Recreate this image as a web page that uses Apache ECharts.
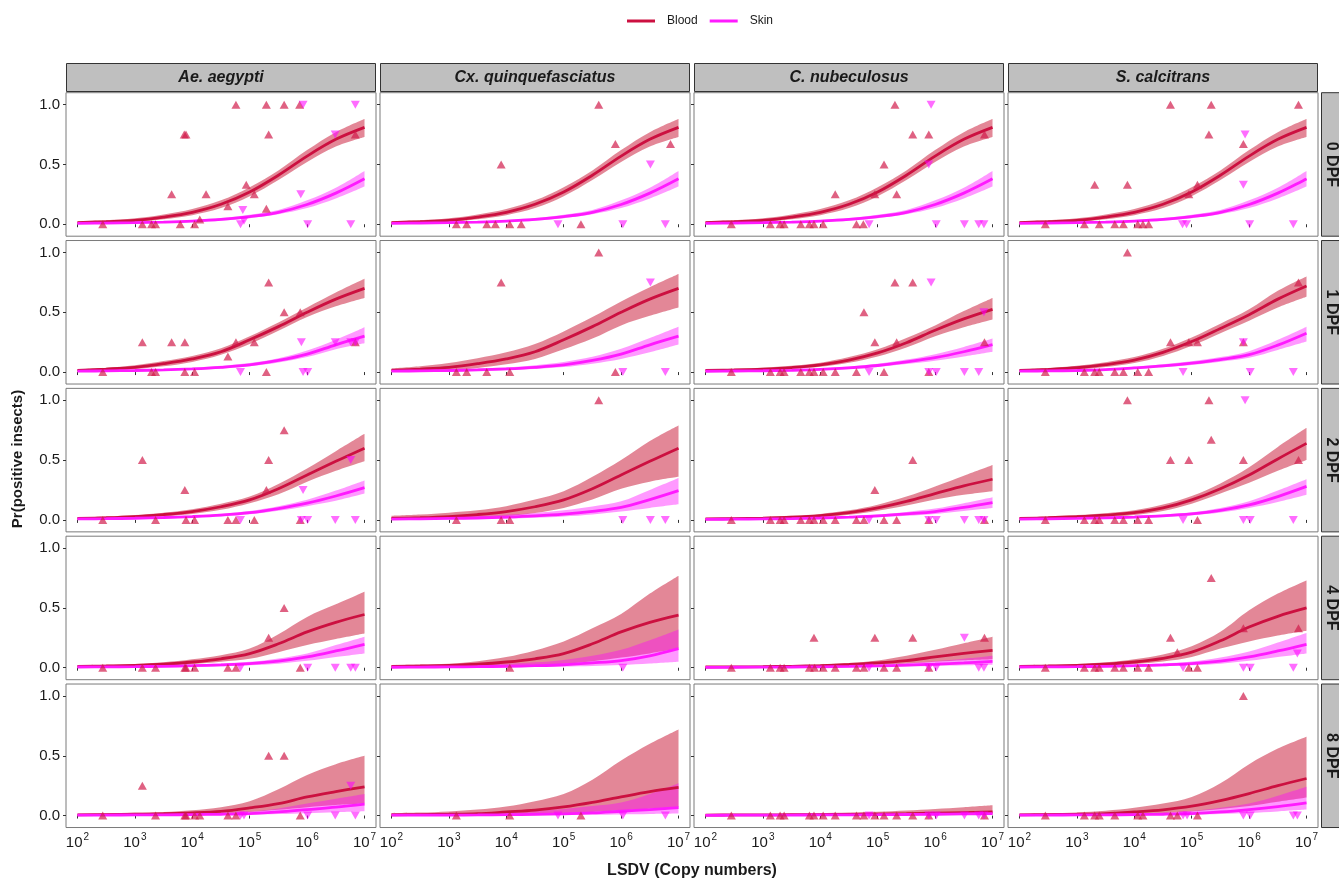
<!DOCTYPE html>
<html>
<head>
<meta charset="utf-8">
<script src="https://cdn.jsdelivr.net/npm/echarts@6/dist/echarts.min.js"></script>
<style>
html, body { margin: 0; padding: 0; background: #ffffff; }
#chart { width: 1339px; height: 878px; }
</style>
</head>
<body>
<div id="chart"></div>
<script>
// Facet labels
const species = ['Ae. aegypti', 'Cx. quinquefasciatus', 'C. nubeculosus', 'S. calcitrans'];
const dpf = ['0 DPF', '1 DPF', '2 DPF', '4 DPF', '8 DPF'];

// Axis ticks (x is log10 of LSDV copy number)
const xTicks = [2, 3, 4, 5, 6, 7];
const yTicks = [0, 0.5, 1];

// Positions (log10 copies) where the fitted curves are sampled
const curveX = [2, 2.5, 3, 3.5, 4, 4.5, 5, 5.5, 6, 6.5, 7];

// Fitted probability and 95% band, indexed [DPF][species][curveX]
const bloodFit0 = [0.014, 0.022, 0.033, 0.06, 0.10, 0.167, 0.27, 0.41, 0.57, 0.71, 0.81];
const bloodLo0  = [0.008, 0.013, 0.021, 0.042, 0.076, 0.135, 0.235, 0.37, 0.52, 0.65, 0.73];
const bloodHi0  = [0.022, 0.033, 0.05, 0.082, 0.128, 0.2, 0.31, 0.45, 0.62, 0.77, 0.88];
const skinFit0  = [0.008, 0.01, 0.013, 0.018, 0.026, 0.04, 0.064, 0.10, 0.165, 0.26, 0.38];
const skinLo0   = [0.004, 0.006, 0.008, 0.012, 0.018, 0.03, 0.05, 0.083, 0.135, 0.215, 0.315];
const skinHi0   = [0.013, 0.016, 0.02, 0.026, 0.036, 0.052, 0.08, 0.12, 0.2, 0.305, 0.445];

const bloodFit = [
  [bloodFit0, bloodFit0, bloodFit0, bloodFit0],
  [[0.014, 0.025, 0.04, 0.07, 0.11, 0.17, 0.27, 0.38, 0.50, 0.61, 0.70],
   [0.014, 0.025, 0.04, 0.07, 0.11, 0.17, 0.27, 0.38, 0.50, 0.61, 0.70],
   [0.014, 0.018, 0.025, 0.038, 0.06, 0.10, 0.16, 0.245, 0.35, 0.445, 0.525],
   [0.014, 0.023, 0.036, 0.062, 0.10, 0.165, 0.255, 0.365, 0.48, 0.61, 0.72]],
  [[0.012, 0.018, 0.028, 0.045, 0.07, 0.11, 0.167, 0.26, 0.375, 0.49, 0.60],
   [0.012, 0.018, 0.028, 0.045, 0.07, 0.11, 0.167, 0.26, 0.375, 0.49, 0.60],
   [0.008, 0.011, 0.015, 0.022, 0.035, 0.06, 0.10, 0.155, 0.22, 0.285, 0.34],
   [0.012, 0.018, 0.027, 0.04, 0.06, 0.10, 0.167, 0.26, 0.375, 0.51, 0.64]],
  [[0.011, 0.015, 0.02, 0.03, 0.048, 0.075, 0.118, 0.2, 0.30, 0.38, 0.445],
   [0.011, 0.015, 0.02, 0.03, 0.048, 0.075, 0.118, 0.2, 0.30, 0.38, 0.44],
   [0.006, 0.007, 0.009, 0.012, 0.018, 0.027, 0.04, 0.06, 0.09, 0.12, 0.146],
   [0.011, 0.015, 0.02, 0.03, 0.048, 0.078, 0.13, 0.225, 0.34, 0.43, 0.50]],
  [[0.006, 0.008, 0.011, 0.015, 0.022, 0.035, 0.064, 0.10, 0.156, 0.2, 0.24],
   [0.006, 0.008, 0.011, 0.016, 0.03, 0.045, 0.072, 0.11, 0.156, 0.2, 0.235],
   [0.004, 0.005, 0.006, 0.007, 0.008, 0.01, 0.012, 0.015, 0.02, 0.025, 0.03],
   [0.006, 0.008, 0.011, 0.016, 0.03, 0.048, 0.078, 0.125, 0.184, 0.25, 0.31]]
];
const bloodLo = [
  [bloodLo0, bloodLo0, bloodLo0, bloodLo0],
  [[0.008, 0.015, 0.025, 0.048, 0.085, 0.145, 0.235, 0.345, 0.46, 0.55, 0.62],
   [0.006, 0.011, 0.018, 0.035, 0.065, 0.11, 0.19, 0.28, 0.39, 0.47, 0.54],
   [0.008, 0.011, 0.016, 0.026, 0.044, 0.077, 0.13, 0.205, 0.30, 0.375, 0.44],
   [0.008, 0.014, 0.023, 0.043, 0.076, 0.135, 0.22, 0.325, 0.43, 0.54, 0.63]],
  [[0.006, 0.01, 0.017, 0.03, 0.05, 0.085, 0.14, 0.215, 0.32, 0.41, 0.49],
   [0.003, 0.006, 0.01, 0.018, 0.032, 0.058, 0.10, 0.17, 0.26, 0.32, 0.36],
   [0.004, 0.006, 0.009, 0.014, 0.023, 0.043, 0.077, 0.12, 0.17, 0.21, 0.24],
   [0.006, 0.01, 0.016, 0.026, 0.042, 0.075, 0.135, 0.22, 0.31, 0.41, 0.50]],
  [[0.005, 0.008, 0.011, 0.018, 0.03, 0.05, 0.075, 0.13, 0.19, 0.24, 0.286],
   [0.002, 0.003, 0.005, 0.008, 0.012, 0.02, 0.033, 0.055, 0.085, 0.12, 0.16],
   [0.003, 0.003, 0.004, 0.006, 0.01, 0.015, 0.024, 0.035, 0.05, 0.062, 0.07],
   [0.005, 0.008, 0.011, 0.018, 0.03, 0.052, 0.09, 0.16, 0.22, 0.27, 0.31]],
  [[0.002, 0.003, 0.004, 0.006, 0.01, 0.016, 0.03, 0.048, 0.07, 0.088, 0.10],
   [0.001, 0.002, 0.003, 0.005, 0.008, 0.013, 0.02, 0.03, 0.045, 0.058, 0.07],
   [0.001, 0.001, 0.002, 0.002, 0.002, 0.003, 0.004, 0.005, 0.006, 0.007, 0.008],
   [0.002, 0.003, 0.004, 0.007, 0.012, 0.02, 0.034, 0.055, 0.08, 0.115, 0.15]]
];
const bloodHi = [
  [bloodHi0, bloodHi0, bloodHi0, bloodHi0],
  [[0.023, 0.037, 0.058, 0.092, 0.135, 0.2, 0.30, 0.415, 0.54, 0.665, 0.78],
   [0.03, 0.048, 0.075, 0.115, 0.165, 0.235, 0.34, 0.46, 0.59, 0.71, 0.82],
   [0.022, 0.028, 0.036, 0.052, 0.078, 0.125, 0.19, 0.285, 0.39, 0.51, 0.62],
   [0.022, 0.034, 0.052, 0.082, 0.125, 0.195, 0.29, 0.405, 0.525, 0.68, 0.80]],
  [[0.02, 0.028, 0.04, 0.06, 0.09, 0.135, 0.195, 0.30, 0.43, 0.575, 0.72],
   [0.035, 0.045, 0.06, 0.08, 0.115, 0.17, 0.24, 0.36, 0.50, 0.66, 0.79],
   [0.015, 0.019, 0.025, 0.034, 0.05, 0.08, 0.127, 0.195, 0.28, 0.37, 0.46],
   [0.02, 0.028, 0.04, 0.056, 0.08, 0.128, 0.2, 0.305, 0.44, 0.61, 0.77]],
  [[0.02, 0.025, 0.032, 0.045, 0.07, 0.105, 0.16, 0.28, 0.425, 0.53, 0.636],
   [0.02, 0.026, 0.034, 0.055, 0.09, 0.145, 0.22, 0.33, 0.45, 0.62, 0.77],
   [0.012, 0.014, 0.017, 0.021, 0.028, 0.04, 0.06, 0.1, 0.15, 0.205, 0.26],
   [0.02, 0.025, 0.032, 0.045, 0.07, 0.11, 0.18, 0.3, 0.48, 0.62, 0.73]],
  [[0.015, 0.018, 0.023, 0.03, 0.045, 0.07, 0.12, 0.22, 0.34, 0.43, 0.50],
   [0.02, 0.025, 0.035, 0.05, 0.075, 0.12, 0.18, 0.3, 0.46, 0.6, 0.72],
   [0.01, 0.012, 0.014, 0.016, 0.02, 0.025, 0.032, 0.042, 0.055, 0.07, 0.086],
   [0.015, 0.02, 0.026, 0.04, 0.065, 0.1, 0.156, 0.27, 0.43, 0.56, 0.66]]
];
const skinFit = [
  [skinFit0, skinFit0, skinFit0, skinFit0],
  [[0.008, 0.01, 0.013, 0.018, 0.027, 0.04, 0.06, 0.097, 0.15, 0.228, 0.30],
   [0.008, 0.01, 0.013, 0.018, 0.027, 0.04, 0.06, 0.097, 0.15, 0.228, 0.30],
   [0.007, 0.009, 0.011, 0.015, 0.022, 0.035, 0.055, 0.085, 0.12, 0.17, 0.23],
   [0.008, 0.01, 0.013, 0.02, 0.035, 0.052, 0.075, 0.105, 0.145, 0.225, 0.325]],
  [[0.008, 0.01, 0.014, 0.02, 0.028, 0.04, 0.06, 0.095, 0.14, 0.2, 0.27],
   [0.007, 0.009, 0.012, 0.016, 0.023, 0.033, 0.048, 0.072, 0.105, 0.17, 0.245],
   [0.005, 0.006, 0.008, 0.011, 0.016, 0.023, 0.033, 0.05, 0.07, 0.105, 0.145],
   [0.007, 0.009, 0.012, 0.017, 0.024, 0.034, 0.05, 0.08, 0.125, 0.195, 0.28]],
  [[0.006, 0.007, 0.009, 0.012, 0.017, 0.024, 0.034, 0.055, 0.09, 0.14, 0.196],
   [0.004, 0.005, 0.007, 0.009, 0.012, 0.017, 0.025, 0.04, 0.06, 0.1, 0.16],
   [0.003, 0.004, 0.005, 0.006, 0.008, 0.011, 0.015, 0.022, 0.03, 0.04, 0.053],
   [0.006, 0.007, 0.009, 0.012, 0.017, 0.024, 0.034, 0.055, 0.09, 0.14, 0.196]],
  [[0.003, 0.004, 0.005, 0.006, 0.008, 0.011, 0.017, 0.03, 0.05, 0.07, 0.095],
   [0.003, 0.003, 0.004, 0.005, 0.007, 0.01, 0.014, 0.022, 0.036, 0.05, 0.067],
   [0.002, 0.003, 0.003, 0.004, 0.005, 0.006, 0.007, 0.009, 0.011, 0.014, 0.017],
   [0.003, 0.004, 0.005, 0.006, 0.008, 0.011, 0.017, 0.03, 0.05, 0.075, 0.106]]
];
const skinLo = [
  [skinLo0, skinLo0, skinLo0, skinLo0],
  [[0.004, 0.006, 0.008, 0.012, 0.019, 0.03, 0.048, 0.08, 0.125, 0.19, 0.24],
   [0.003, 0.005, 0.007, 0.01, 0.016, 0.026, 0.042, 0.07, 0.11, 0.165, 0.23],
   [0.004, 0.005, 0.007, 0.01, 0.015, 0.025, 0.042, 0.067, 0.095, 0.13, 0.17],
   [0.004, 0.006, 0.008, 0.013, 0.025, 0.04, 0.06, 0.087, 0.12, 0.185, 0.255]],
  [[0.004, 0.006, 0.008, 0.013, 0.02, 0.03, 0.047, 0.077, 0.115, 0.16, 0.22],
   [0.002, 0.003, 0.005, 0.007, 0.011, 0.018, 0.028, 0.045, 0.07, 0.1, 0.13],
   [0.002, 0.003, 0.004, 0.006, 0.01, 0.015, 0.023, 0.035, 0.05, 0.075, 0.10],
   [0.003, 0.005, 0.007, 0.01, 0.016, 0.024, 0.038, 0.062, 0.1, 0.15, 0.21]],
  [[0.002, 0.003, 0.004, 0.006, 0.009, 0.013, 0.02, 0.034, 0.058, 0.09, 0.12],
   [0.001, 0.002, 0.002, 0.003, 0.005, 0.007, 0.01, 0.015, 0.022, 0.035, 0.05],
   [0.001, 0.001, 0.002, 0.002, 0.003, 0.005, 0.007, 0.01, 0.014, 0.02, 0.025],
   [0.002, 0.003, 0.004, 0.006, 0.009, 0.013, 0.02, 0.034, 0.058, 0.09, 0.12]],
  [[0.001, 0.001, 0.002, 0.002, 0.003, 0.005, 0.008, 0.013, 0.02, 0.028, 0.036],
   [0.001, 0.001, 0.001, 0.001, 0.002, 0.003, 0.004, 0.006, 0.009, 0.013, 0.017],
   [0.001, 0.001, 0.001, 0.001, 0.001, 0.002, 0.002, 0.003, 0.003, 0.004, 0.005],
   [0.001, 0.001, 0.002, 0.002, 0.003, 0.005, 0.008, 0.013, 0.022, 0.035, 0.05]]
];
const skinHi = [
  [skinHi0, skinHi0, skinHi0, skinHi0],
  [[0.013, 0.016, 0.02, 0.026, 0.036, 0.052, 0.075, 0.115, 0.18, 0.27, 0.375],
   [0.015, 0.018, 0.022, 0.03, 0.04, 0.058, 0.085, 0.128, 0.195, 0.285, 0.38],
   [0.012, 0.014, 0.017, 0.022, 0.03, 0.046, 0.07, 0.105, 0.15, 0.21, 0.28],
   [0.013, 0.016, 0.02, 0.028, 0.045, 0.065, 0.09, 0.125, 0.175, 0.27, 0.38]],
  [[0.013, 0.016, 0.02, 0.027, 0.037, 0.052, 0.075, 0.115, 0.168, 0.245, 0.33],
   [0.02, 0.024, 0.028, 0.034, 0.044, 0.058, 0.08, 0.112, 0.155, 0.25, 0.35],
   [0.01, 0.011, 0.014, 0.018, 0.024, 0.033, 0.045, 0.067, 0.095, 0.14, 0.19],
   [0.012, 0.014, 0.018, 0.024, 0.033, 0.045, 0.064, 0.1, 0.155, 0.245, 0.34]],
  [[0.012, 0.014, 0.017, 0.021, 0.027, 0.036, 0.05, 0.078, 0.12, 0.19, 0.26],
   [0.015, 0.017, 0.02, 0.025, 0.033, 0.045, 0.065, 0.1, 0.15, 0.23, 0.32],
   [0.008, 0.009, 0.01, 0.012, 0.015, 0.02, 0.028, 0.04, 0.055, 0.075, 0.10],
   [0.012, 0.014, 0.017, 0.021, 0.027, 0.036, 0.052, 0.085, 0.135, 0.21, 0.29]],
  [[0.009, 0.01, 0.012, 0.014, 0.018, 0.024, 0.035, 0.06, 0.1, 0.14, 0.18],
   [0.012, 0.014, 0.016, 0.02, 0.027, 0.038, 0.055, 0.08, 0.11, 0.18, 0.27],
   [0.007, 0.008, 0.009, 0.01, 0.012, 0.014, 0.017, 0.021, 0.026, 0.032, 0.04],
   [0.009, 0.01, 0.012, 0.014, 0.018, 0.025, 0.038, 0.065, 0.1, 0.165, 0.24]]
];

// Observed proportions of positive insects: [log10 copies, proportion], indexed [DPF][species]
const bloodPoints = [
  [[[2.44,0],[3.13,0],[3.29,0],[3.36,0],[3.64,0.25],[3.79,0],[3.86,0.75],[3.89,0.75],[4.04,0],[4.13,0.04],[4.24,0.25],[4.62,0.15],[4.76,1],[4.94,0.33],[5.08,0.25],[5.29,1],[5.29,0.13],[5.33,0.75],[5.60,1],[5.87,1],[6.84,0.75]],
   [[3.13,0],[3.31,0],[3.66,0],[3.81,0],[3.91,0.5],[4.06,0],[4.26,0],[5.30,0],[5.61,1],[5.90,0.67],[6.86,0.67]],
   [[2.45,0],[3.13,0],[3.30,0],[3.37,0],[3.66,0],[3.81,0],[3.89,0],[4.05,0],[4.26,0.25],[4.63,0],[4.75,0],[4.95,0.25],[5.11,0.5],[5.30,1],[5.33,0.25],[5.61,0.75],[5.89,0.75],[6.86,0.75]],
   [[2.45,0],[3.13,0],[3.31,0.33],[3.39,0],[3.66,0],[3.81,0],[3.88,0.33],[4.06,0],[4.15,0],[4.25,0],[4.63,1],[4.95,0.25],[5.10,0.33],[5.30,0.75],[5.34,1],[5.90,0.67],[6.86,1]]],
  [[[2.44,0],[3.13,0.25],[3.29,0],[3.36,0],[3.64,0.25],[3.87,0.25],[3.87,0],[4.04,0],[4.62,0.13],[4.76,0.25],[5.08,0.25],[5.29,0],[5.33,0.75],[5.60,0.5],[5.88,0.5],[6.84,0.25]],
   [[3.13,0],[3.31,0],[3.66,0],[3.91,0.75],[4.06,0],[5.61,1],[5.90,0]],
   [[2.45,0],[3.13,0],[3.30,0],[3.37,0],[3.66,0],[3.81,0],[3.89,0],[4.05,0],[4.26,0],[4.63,0],[4.76,0.5],[4.95,0.25],[5.11,0],[5.30,0.75],[5.33,0.25],[5.61,0.75],[5.89,0],[6.86,0.25]],
   [[2.45,0],[3.13,0],[3.31,0],[3.39,0],[3.66,0],[3.81,0],[3.88,1],[4.06,0],[4.25,0],[4.63,0.25],[4.95,0.25],[5.10,0.25],[5.90,0.25],[6.86,0.75]]],
  [[[2.44,0],[3.13,0.5],[3.36,0],[3.87,0.25],[3.89,0],[4.04,0],[4.62,0],[4.76,0],[5.08,0],[5.29,0.25],[5.33,0.5],[5.60,0.75],[5.88,0]],
   [[3.13,0],[3.91,0],[4.06,0],[5.61,1]],
   [[2.45,0],[3.13,0],[3.30,0],[3.37,0],[3.66,0],[3.81,0],[3.89,0],[4.05,0],[4.26,0],[4.63,0],[4.76,0],[4.95,0.25],[5.11,0],[5.33,0],[5.61,0.5],[5.89,0],[6.86,0]],
   [[2.45,0],[3.13,0],[3.31,0],[3.39,0],[3.66,0],[3.81,0],[3.88,1],[4.06,0],[4.25,0],[4.63,0.5],[4.95,0.5],[5.10,0],[5.30,1],[5.34,0.67],[5.90,0.5],[6.86,0.5]]],
  [[[2.44,0],[3.13,0],[3.36,0],[3.87,0],[3.89,0],[4.04,0],[4.62,0],[4.76,0],[5.33,0.25],[5.60,0.5],[5.88,0]],
   [[4.06,0]],
   [[2.45,0],[3.13,0],[3.30,0],[3.37,0],[3.81,0],[3.89,0.25],[3.90,0],[4.05,0],[4.26,0],[4.63,0],[4.76,0],[4.95,0.25],[5.11,0],[5.33,0],[5.61,0.25],[5.89,0],[6.86,0.25]],
   [[2.45,0],[3.13,0],[3.31,0],[3.39,0],[3.66,0],[3.81,0],[4.06,0],[4.25,0],[4.63,0.25],[4.75,0.13],[4.95,0],[5.10,0],[5.34,0.75],[5.90,0.33],[6.86,0.33]]],
  [[[2.44,0],[3.13,0.25],[3.36,0],[3.87,0],[3.89,0],[4.04,0],[4.13,0],[4.62,0],[4.76,0],[5.33,0.5],[5.60,0.5],[5.88,0]],
   [[3.13,0],[4.06,0],[5.30,0]],
   [[2.45,0],[3.13,0],[3.30,0],[3.37,0],[3.81,0],[3.89,0],[4.05,0],[4.26,0],[4.63,0],[4.76,0],[4.95,0],[5.11,0],[5.33,0],[5.61,0],[5.89,0],[6.86,0]],
   [[2.45,0],[3.13,0],[3.31,0],[3.39,0],[3.66,0],[4.06,0],[4.15,0],[4.63,0],[4.75,0],[5.10,0],[5.90,1]]]
];
const skinPoints = [
  [[[4.84,0],[4.88,0.12],[4.90,0.03],[5.89,0.25],[5.93,1],[6.01,0],[6.49,0.75],[6.76,0],[6.84,1]],
   [[4.90,0],[6.03,0],[6.51,0.5],[6.77,0]],
   [[4.85,0],[5.89,0.5],[5.93,1],[6.02,0],[6.51,0],[6.76,0],[6.85,0]],
   [[4.84,0],[4.91,0],[5.90,0.33],[5.93,0.75],[6.01,0],[6.77,0]]],
  [[[4.84,0],[5.90,0.25],[5.93,0],[6.01,0],[6.49,0.25],[6.76,0.25],[6.84,0.25]],
   [[6.03,0],[6.51,0.75],[6.77,0]],
   [[4.85,0],[5.89,0],[5.93,0.75],[6.02,0],[6.51,0],[6.76,0],[6.85,0.5]],
   [[4.85,0],[5.90,0.25],[6.02,0],[6.77,0]]],
  [[[4.84,0],[5.90,0],[5.93,0.25],[6.01,0],[6.49,0],[6.76,0.5],[6.84,0]],
   [[6.03,0],[6.51,0],[6.77,0]],
   [[4.85,0],[5.89,0],[6.02,0],[6.51,0],[6.76,0],[6.85,0]],
   [[4.85,0],[5.90,0],[5.93,1],[6.02,0],[6.77,0]]],
  [[[4.84,0],[6.01,0],[6.49,0],[6.76,0],[6.84,0]],
   [[6.03,0]],
   [[4.85,0],[5.89,0],[6.02,0],[6.51,0.25],[6.76,0],[6.85,0]],
   [[4.85,0],[5.90,0],[6.02,0],[6.77,0],[6.84,0.12]]],
  [[[4.84,0],[4.90,0],[6.01,0],[6.49,0],[6.76,0.25],[6.84,0]],
   [[4.90,0],[6.03,0],[6.77,0]],
   [[4.85,0],[5.89,0],[6.02,0],[6.51,0],[6.76,0],[6.85,0]],
   [[4.85,0],[4.92,0],[5.90,0],[6.02,0],[6.77,0],[6.84,0]]]
];

// ---- layout & styling ----
const FONT = '"Liberation Sans", Arial, sans-serif';
const TEXT = '#1a1a1a';
const BLOOD_LINE = '#cc1040';
const BLOOD_BAND = 'rgba(200,16,48,0.5)';
const BLOOD_PT = 'rgba(208,24,72,0.85)';
const SKIN_LINE = '#ff1aff';
const SKIN_BAND = 'rgba(255,0,255,0.4)';
const SKIN_PT = 'rgba(255,0,255,0.72)';
const SMOOTH = 0.35;

const PANEL_LEFT = 66, PANEL_DX = 314, PANEL_W = 310;
const PANEL_TOP = 92.7, PANEL_DY = 147.83, PANEL_H = 143.5;

const zip = (xs, ys) => xs.map((x, i) => [x, ys[i]]);
// band rows are stored as [value, x] so the stacked dimension is the probability
const bandRows = (xs, vs) => xs.map((x, i) => [vs[i], x]);
const diff = (hi, lo) => hi.map((v, i) => +(v - lo[i]).toFixed(4));

const grids = [], xAxes = [], yAxes = [], series = [], graphics = [];

dpf.forEach((rowName, r) => {
  species.forEach((spName, c) => {
    const k = r * species.length + c;
    const left = PANEL_LEFT + c * PANEL_DX;
    const top = PANEL_TOP + r * PANEL_DY;
    grids.push({
      left: left, top: top, width: PANEL_W, height: PANEL_H,
      show: true, borderColor: '#7a7a7a', borderWidth: 1, backgroundColor: 'transparent',
      outerBoundsMode: 'none', containLabel: false
    });
    const isBottom = r === dpf.length - 1;
    const isLeft = c === 0;
    xAxes.push({
      type: 'value', gridIndex: k, min: 1.8, max: 7.2,
      axisLine: { show: false },
      splitLine: { show: false },
      axisTick: { show: true, customValues: xTicks, length: 3,
                  lineStyle: { color: '#333333', width: 1 } },
      axisLabel: {
        show: isBottom, customValues: xTicks, margin: 5,
        formatter: v => '{b|10}{s|' + v + '}',
        rich: {
          b: { fontFamily: FONT, fontSize: 15, color: TEXT, lineHeight: 20 },
          s: { fontFamily: FONT, fontSize: 10, color: TEXT, lineHeight: 10, padding: [0, 0, 10, 1] }
        }
      }
    });
    yAxes.push({
      type: 'value', gridIndex: k, min: -0.1, max: 1.1,
      axisLine: { show: false },
      splitLine: { show: false },
      axisTick: { show: true, customValues: yTicks, length: 3,
                  lineStyle: { color: '#333333', width: 1 } },
      axisLabel: {
        show: isLeft, customValues: yTicks, margin: 6,
        formatter: v => v.toFixed(1),
        fontFamily: FONT, fontSize: 15, color: TEXT
      }
    });

    const common = { xAxisIndex: k, yAxisIndex: k, animation: false, silent: true };
    const band = (id, lo, hi, color) => [
      Object.assign({}, common, {
        type: 'line', name: id + ' lower', stack: id + k,
        data: bandRows(curveX, lo), encode: { x: 1, y: 0 },
        smooth: SMOOTH, symbol: 'none', showSymbol: false,
        lineStyle: { opacity: 0, width: 0 }, z: 1
      }),
      Object.assign({}, common, {
        type: 'line', name: id + ' band', stack: id + k,
        data: bandRows(curveX, diff(hi, lo)), encode: { x: 1, y: 0 },
        smooth: SMOOTH, symbol: 'none', showSymbol: false,
        lineStyle: { opacity: 0, width: 0 }, areaStyle: { color: color, opacity: 1 }, z: 1
      })
    ];
    series.push(...band('blood', bloodLo[r][c], bloodHi[r][c], BLOOD_BAND));
    series.push(...band('skin', skinLo[r][c], skinHi[r][c], SKIN_BAND));
    series.push(Object.assign({}, common, {
      type: 'line', name: 'Blood', color: BLOOD_LINE, data: zip(curveX, bloodFit[r][c]),
      smooth: SMOOTH, symbol: 'none', showSymbol: false,
      lineStyle: { color: BLOOD_LINE, width: 2.8 }, z: 3
    }));
    series.push(Object.assign({}, common, {
      type: 'line', name: 'Skin', color: SKIN_LINE, data: zip(curveX, skinFit[r][c]),
      smooth: SMOOTH, symbol: 'none', showSymbol: false,
      lineStyle: { color: SKIN_LINE, width: 2.8 }, z: 3
    }));
    series.push(Object.assign({}, common, {
      type: 'scatter', name: 'Blood obs', data: bloodPoints[r][c],
      symbol: 'triangle', symbolSize: [9, 8], itemStyle: { color: BLOOD_PT }, z: 4
    }));
    series.push(Object.assign({}, common, {
      type: 'scatter', name: 'Skin obs', data: skinPoints[r][c],
      symbol: 'triangle', symbolRotate: 180, symbolSize: [9, 8], itemStyle: { color: SKIN_PT }, z: 5
    }));
  });
});

// Column strips (species)
species.forEach((name, c) => {
  const left = PANEL_LEFT + c * PANEL_DX;
  graphics.push({
    type: 'rect', shape: { x: left + 0.5, y: 63.5, width: PANEL_W - 1, height: 28 },
    style: { fill: '#bfbfbf', stroke: '#333333', lineWidth: 1 }, silent: true
  });
  graphics.push({
    type: 'text', x: left + PANEL_W / 2, y: 78, silent: true,
    style: { text: name, x: 0, y: 0, align: 'center', verticalAlign: 'middle',
             textAlign: 'center', textVerticalAlign: 'middle',
             font: 'italic bold 16px ' + FONT, fill: TEXT }
  });
});

// Row strips (days post feeding)
dpf.forEach((name, r) => {
  const top = PANEL_TOP + r * PANEL_DY;
  graphics.push({
    type: 'rect', shape: { x: 1321.5, y: top, width: 30, height: PANEL_H },
    style: { fill: '#bfbfbf', stroke: '#333333', lineWidth: 1 }, silent: true
  });
  graphics.push({
    type: 'text', x: 1331, y: top + PANEL_H / 2, rotation: -Math.PI / 2, silent: true,
    style: { text: name, x: 0, y: 0, align: 'center', verticalAlign: 'middle',
             textAlign: 'center', textVerticalAlign: 'middle',
             font: 'bold 16px ' + FONT, fill: TEXT }
  });
});

// Axis titles
graphics.push({
  type: 'text', x: 18, y: 459, rotation: Math.PI / 2, silent: true,
  style: { text: 'Pr(positive insects)', x: 0, y: 0, align: 'center', verticalAlign: 'middle',
           textAlign: 'center', textVerticalAlign: 'middle',
           font: 'bold 15px ' + FONT, fill: TEXT }
});
graphics.push({
  type: 'text', x: 692, y: 871, silent: true,
  style: { text: 'LSDV (Copy numbers)', x: 0, y: 0, align: 'center', verticalAlign: 'middle',
           textAlign: 'center', textVerticalAlign: 'middle',
           font: 'bold 16px ' + FONT, fill: TEXT }
});

const chart = echarts.init(document.getElementById('chart'), null, { renderer: 'canvas' });
chart.setOption({
  animation: false,
  backgroundColor: '#ffffff',
  legend: {
    left: 622, top: 10, itemWidth: 28, itemHeight: 3, itemGap: 12,
    data: [{ name: 'Blood', icon: 'rect' }, { name: 'Skin', icon: 'rect' }],
    textStyle: { fontFamily: FONT, fontSize: 12, color: TEXT, padding: [0, 0, 0, 7] },
    selectedMode: false
  },
  grid: grids,
  xAxis: xAxes,
  yAxis: yAxes,
  series: series,
  graphic: { elements: graphics }
});
</script>
</body>
</html>
